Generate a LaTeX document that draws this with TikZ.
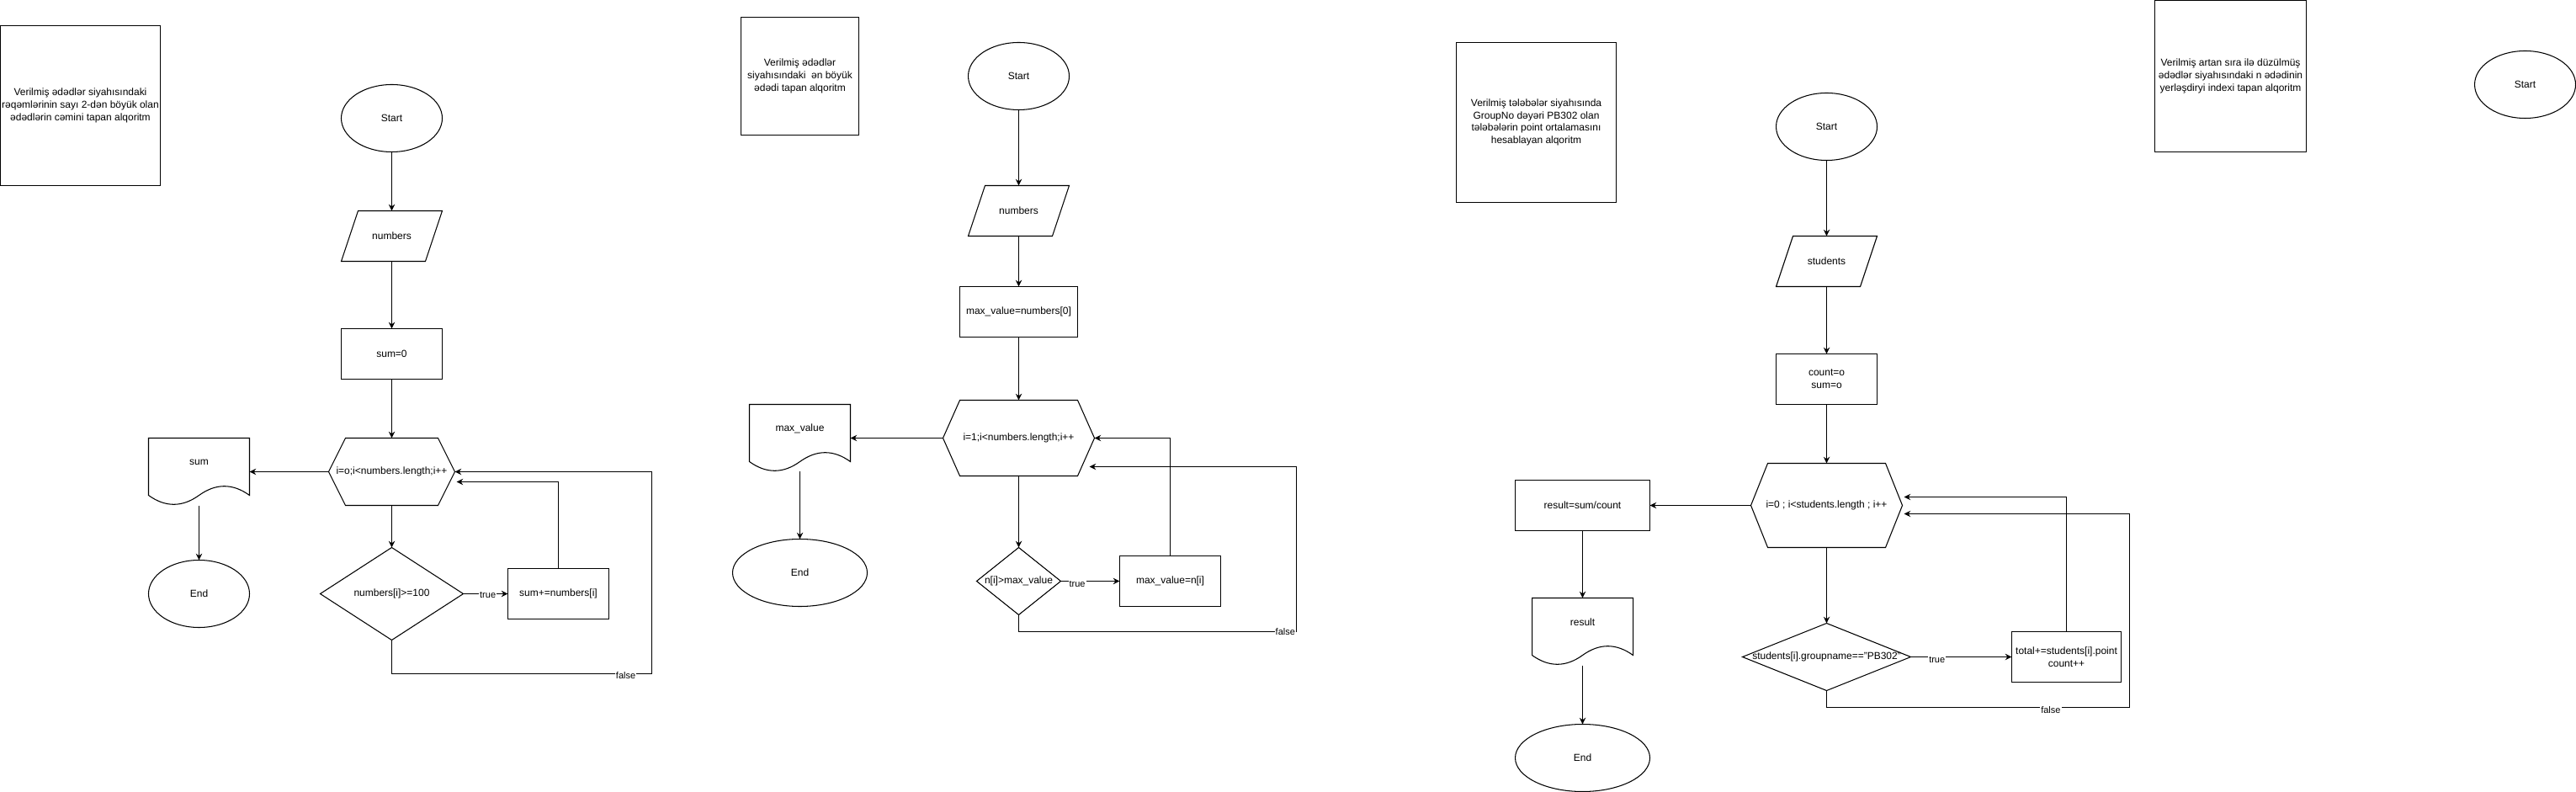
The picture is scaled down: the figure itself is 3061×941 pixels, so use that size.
\documentclass[tikz,border=0pt]{standalone}
\usepackage{fontspec}
\setmainfont{Liberation Sans}
\usetikzlibrary{shapes.geometric,arrows.meta,calc}
\newcommand{\hexline}[2]{\draw (#1.west) -- ($(#1.north west)+(#2,0)$) -- ($(#1.north east)+(-#2,0)$) -- (#1.east) -- ($(#1.south east)+(-#2,0)$) -- ($(#1.south west)+(#2,0)$) -- cycle;}
\newcommand{\ioline}[1]{\draw ($(#1.north west)+(20,0)$) -- (#1.north east) -- ($(#1.south east)+(-20,0)$) -- (#1.south west) -- cycle;}
\newcommand{\dialine}[1]{\draw (#1.north) -- (#1.east) -- (#1.south) -- (#1.west) -- cycle;}
\newcommand{\docline}[1]{\draw (#1.north west) -- (#1.north east) -- ($(#1.north west)+(120,68)$) .. controls ($(#1.north west)+(100,53.6)$) and ($(#1.north west)+(80,53.6)$) .. ($(#1.north west)+(60,68)$) .. controls ($(#1.north west)+(40,82.4)$) and ($(#1.north west)+(20,82.4)$) .. ($(#1.north west)+(0,68)$) -- cycle;}
\begin{document}
\begin{tikzpicture}[x=0.1mm,y=-0.1mm,line width=0.3pt,font=\fontsize{3.41pt}{4.2pt}\selectfont,
  title/.style={draw,align=center,inner sep=0,outer sep=0,minimum width=#1,minimum height=#1},
  term/.style={draw,ellipse,inner sep=0,outer sep=0,minimum width=#1,minimum height=8mm},
  term/.default=12mm,
  io/.style={inner sep=0,outer sep=0,minimum width=12mm,minimum height=6mm},
  proc/.style={draw,align=center,inner sep=0,outer sep=0,minimum width=#1,minimum height=6mm},
  proc/.default=12mm,
  loopnode/.style={inner sep=0,outer sep=0,minimum width=#1},
  cond/.style={inner sep=0,outer sep=0,minimum width=#1},
  doc/.style={inner sep=0,outer sep=0,minimum width=12mm,minimum height=8mm},
  doctext/.style={label={[anchor=center,label distance=-2.9mm]north:#1}},
  arr/.style={-{Stealth[length=2.2pt,width=2.1pt]}},
  lbl/.style={fill=white,inner sep=0.3pt,font=\fontsize{3.13pt}{3.8pt}\selectfont}]
\useasboundingbox (-0.5,-0.5) rectangle (3060.5,940.5);

\node[title=19mm] (t1) at (95,125) {Verilmiş ədədlər siyahısındaki\\rəqəmlərinin sayı 2-dən böyük olan\\ədədlərin cəmini tapan alqoritm};
\node[term] (s1) at (465,140) {Start};
\node[io] (in1) at (465,280) {numbers}; \ioline{in1}
\node[proc] (p1) at (465,420) {sum=0};
\node[loopnode=15mm,minimum height=8mm] (h1) at (465,560) {i=o;i<numbers.length;i++}; \hexline{h1}{20}
\node[doc,doctext=sum] (o1) at (236,560) {}; \docline{o1}
\node[term] (e1) at (236,705) {End};
\node[cond=17mm,minimum height=11mm] (c1) at (465,705) {numbers[i]>=100}; \dialine{c1}
\node[proc] (a1) at (663,705) {sum+=numbers[i]};
\draw[arr] (s1.south) -- (in1.north);
\draw[arr] (in1.south) -- (p1.north);
\draw[arr] (p1.south) -- (h1.north);
\draw[arr] (h1.west) -- (o1.east);
\draw[arr] (o1.south) -- (e1.north);
\draw[arr] (h1.south) -- (c1.north);
\draw[arr] (c1.east) -- node[lbl,pos=0.55,yshift=-0.5pt]{true} (a1.west);
\draw[arr] (a1.north) |- ($(h1.east)+(2,12)$);
\draw[arr] (c1.south) -- ++(0,40) -| node[lbl,pos=0.45,yshift=-0.5pt]{false} ($(h1.east)+(234,0)$) -- (h1.east);

\node[title=14mm] (t2) at (950,90) {Verilmiş ədədlər\\siyahısındaki\ \ ən böyük\\ədədi tapan alqoritm};
\node[term] (s2) at (1210,90) {Start};
\node[io] (in2) at (1210,250) {numbers}; \ioline{in2}
\node[proc=14mm] (p2) at (1210,370) {max\_value=numbers[0]};
\node[loopnode=18mm,minimum height=9mm] (h2) at (1210,520) {i=1;i<numbers.length;i++}; \hexline{h2}{20}
\node[doc,doctext=max\_value] (o2) at (950,520) {}; \docline{o2}
\node[term=16mm] (e2) at (950,680) {End};
\node[cond=10mm,minimum height=8mm] (c2) at (1210,690) {n[i]>max\_value}; \dialine{c2}
\node[proc] (a2) at (1390,690) {max\_value=n[i]};
\draw[arr] (s2.south) -- (in2.north);
\draw[arr] (in2.south) -- (p2.north);
\draw[arr] (p2.south) -- (h2.north);
\draw[arr] (h2.west) -- (o2.east);
\draw[arr] (o2.south) -- (e2.north);
\draw[arr] (h2.south) -- (c2.north);
\draw[arr] (c2.east) -- node[lbl,pos=0.28,yshift=-1pt]{true} (a2.west);
\draw[arr] (a2.north) |- (h2.east);
\draw[arr] (c2.south) -- ++(0,20) -| node[lbl,pos=0.48]{false} ($(h2.east)+(240,34)$) -- ($(h2.east)+(-6,34)$);

\node[title=19mm] (t3) at (1825,145) {Verilmiş tələbələr siyahısında\\GroupNo dəyəri PB302 olan\\tələbələrin point ortalamasını\\hesablayan alqoritm};
\node[term] (s3) at (2170,150) {Start};
\node[io] (in3) at (2170,310) {students}; \ioline{in3}
\node[proc] (p3) at (2170,450) {count=o\\sum=o};
\node[loopnode=18mm,minimum height=10mm] (h3) at (2170,600) {i=0 ; i<students.length ; i++}; \hexline{h3}{20}
\node[proc=16mm] (r3) at (1880,600) {result=sum/count};
\node[doc,doctext=result] (o3) at (1880,750) {}; \docline{o3}
\node[term=16mm] (e3) at (1880,900) {End};
\node[cond=20mm,minimum height=8mm] (c3) at (2170,780) {students[i].groupname=="PB302"}; \dialine{c3}
\node[proc=13mm] (a3) at (2455,780) {total+=students[i].point\\count++};
\draw[arr] (s3.south) -- (in3.north);
\draw[arr] (in3.south) -- (p3.north);
\draw[arr] (p3.south) -- (h3.north);
\draw[arr] (h3.west) -- (r3.east);
\draw[arr] (r3.south) -- (o3.north);
\draw[arr] (o3.south) -- (e3.north);
\draw[arr] (h3.south) -- (c3.north);
\draw[arr] (c3.east) -- node[lbl,pos=0.26,yshift=-1pt]{true} (a3.west);
\draw[arr] (a3.north) |- ($(h3.east)+(2,-10)$);
\draw[arr] (c3.south) -- ++(0,20) -| node[lbl,pos=0.37,yshift=-1pt]{false} ($(h3.east)+(270,10)$) -- ($(h3.east)+(2,10)$);

\node[title=18mm] (t4) at (2650,90) {Verilmiş artan sıra ilə düzülmüş\\ədədlər siyahısındaki n ədədinin\\yerləşdiryi indexi tapan alqoritm};
\node[term] (s4) at (3000,100) {Start};
\end{tikzpicture}
\end{document}
